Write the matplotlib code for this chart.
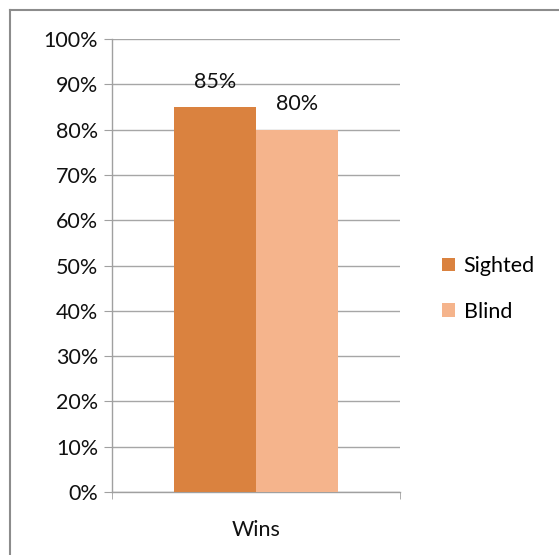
import matplotlib.pyplot as plt
from matplotlib.lines import Line2D
from matplotlib.patches import Patch

# data
category = ['Wins']
series = ['Sighted', 'Blind']
values = [85, 80]
colors = ['#DA823F', '#F5B48C']
yticks = list(range(0, 101, 10))

plt.rcParams['font.family'] = ['Lato', 'DejaVu Sans']
fs = 15.5
txt = '#111111'

fig = plt.figure(figsize=(5.59, 5.55), dpi=100)
ax = fig.add_axes([0.2004, 0.1135, 0.5152, 0.8162])

bar_w = 0.285
offsets = [-bar_w / 2, bar_w / 2]
for name, val, col, off in zip(series, values, colors, offsets):
    ax.bar(0 + off, val, width=bar_w, color=col, label=name, zorder=3)
    ax.annotate(f'{val}%', (0 + off, val), xytext=(0, 11), textcoords='offset points',
                ha='center', va='bottom', fontsize=fs, color=txt)

ax.set_xlim(-0.5, 0.5)
ax.set_ylim(0, 100)
ax.set_yticks(yticks)
ax.set_yticklabels([f'{t}%' for t in yticks], fontsize=fs, color=txt)
ax.set_xticks([0])
ax.set_xticklabels(category, fontsize=fs, color=txt)
ax.set_xticks([-0.5, 0.5], minor=True)
ax.tick_params(axis='x', which='major', length=0, pad=20)
ax.tick_params(axis='x', which='minor', length=5, color='#A0A0A0', direction='out')
ax.tick_params(axis='y', length=6, color='#A0A0A0', pad=4)

ax.grid(axis='y', color='#A6A6A6', linewidth=1, zorder=0)
ax.set_axisbelow(True)
for s in ['top', 'right']:
    ax.spines[s].set_visible(False)
for s in ['left', 'bottom']:
    ax.spines[s].set_color('#A0A0A0')
    ax.spines[s].set_linewidth(1)

handles = [Patch(facecolor=c, edgecolor='none') for c in colors]
fig.legend(handles, series, loc='center left', bbox_to_anchor=(425 / 559, 1 - 289 / 555),
           frameon=False, fontsize=fs, handlelength=0.6, handleheight=0.6,
           handletextpad=0.4, labelspacing=1.2, borderpad=0.3)

# outer chart border (only top and left visible in the crop)
fig.add_artist(Line2D([10 / 559, 10 / 559], [0, 1 - 9.5 / 555], color='#8C8C8C', linewidth=1.5))
fig.add_artist(Line2D([10 / 559, 1], [1 - 9.5 / 555, 1 - 9.5 / 555], color='#8C8C8C', linewidth=1.5))

fig.savefig('out.png', dpi=100)
